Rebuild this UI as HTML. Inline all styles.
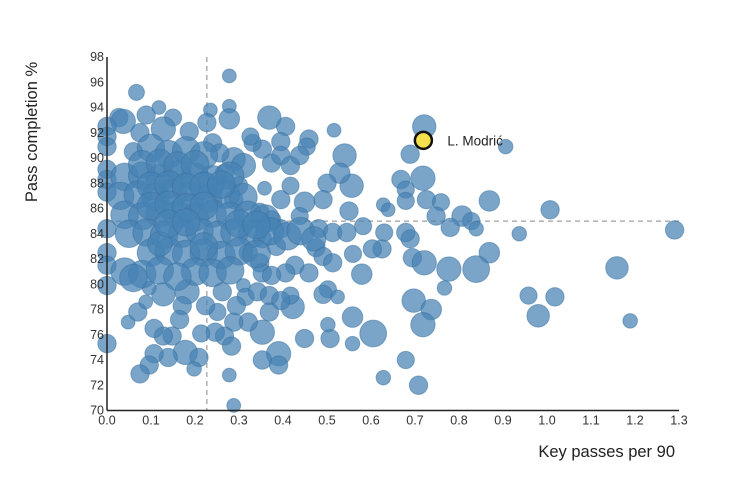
<!DOCTYPE html>
<html><head><meta charset="utf-8"><style>
body{margin:0;background:#fff;}
svg{display:block;font-family:"Liberation Sans",sans-serif;}
</style></head><body>
<svg id="chart" width="730" height="495" viewBox="0 0 730 495" xmlns="http://www.w3.org/2000/svg">
<g id="grid"></g>
<g id="dots"></g>
<g id="axes"></g>
<text transform="translate(37,132) rotate(-90)" text-anchor="middle" font-size="16.5" fill="#222">Pass completion %</text>
<text x="675" y="457" text-anchor="end" font-size="16.5" fill="#222">Key passes per 90</text>
</svg>
<script>
const xs=[0.278,0.067,0.721,0.906,0.689,0.516,0.54,0.718,0.668,0.679,0.679,0.726,0.759,0.869,1.007,0.628,0.639,0.748,0.807,0.828,0.78,0.839,0.937,1.29,0.869,0.689,0.679,0.694,0.721,0.777,0.839,1.159,0.767,0.958,1.018,0.98,1.189,0.697,0.737,0.718,0.679,0.628,0.708,0.605,0.558,0.558,0.507,0.502,0.449,0.579,0.559,0.625,0.603,0.63,0.582,0.55,0.556,0.529,0.5,0.491,0.449,0.438,0.481,0.513,0.545,0.475,0.491,0.513,0.459,0.427,0.406,0.502,0.491,0.524,0.422,0.417,0.459,0.454,0.406,0.369,0.395,0.374,0.395,0.417,0.438,0.353,0.331,0.326,0.358,0.395,0.417,0.347,0.374,0.395,0.353,0.385,0.321,0.347,0.353,0.374,0.31,0.315,0.342,0.369,0.395,0.369,0.353,0.321,0.288,0.267,0.283,0.246,0.214,0.251,0.224,0.182,0.171,0.165,0.262,0.294,0.39,0.353,0.39,0.278,0.288,0.178,0.209,0.198,0.139,0.107,0.096,0.075,0.148,0.128,0.107,0.0,0.048,0.07,0.088,0.128,0.096,0.027,0.037,0.0,0.0,0.0,0.0,0.0,0.0,0.0,0.0,0.0,0.0,0.089,0.118,0.15,0.128,0.075,0.187,0.235,0.227,0.278,0.278,0.24,0.288,0.31,0.256,0.267,0.299,0.288,0.246,
0.06,0.1,0.14,0.18,0.22,0.04,0.08,0.12,0.16,0.2,0.24,0.28,0.03,0.07,0.11,0.15,0.19,0.23,0.27,0.31,0.04,0.08,0.12,0.16,0.2,0.24,0.28,0.32,0.36,0.05,0.09,0.13,0.17,0.21,0.25,0.29,0.33,0.37,0.41,0.1,0.14,0.18,0.22,0.26,0.3,0.34,0.04,0.08,0.12,0.2,0.24,0.28,0.06,0.16,0.44,0.47,0.12,0.22,
0.08,0.12,0.16,0.2,0.1,0.14,0.18,0.22,0.26,0.1,0.14,0.18,0.22,0.14,0.18,0.3,0.34];
const ys=[96.5,95.2,92.5,90.9,90.3,92.2,90.2,88.4,88.3,87.5,86.6,86.7,86.5,86.6,85.9,86.3,85.9,85.4,85.4,85.0,84.5,84.4,84.0,84.3,82.5,83.6,84.1,82.1,81.7,81.2,81.2,81.3,79.7,79.1,79.0,77.5,77.1,78.7,78.0,76.8,74.0,72.6,72.0,76.1,77.4,75.3,75.7,76.8,75.7,80.8,82.4,82.8,82.8,84.1,84.6,85.8,87.8,88.8,88.0,86.7,86.5,85.4,84.4,84.1,84.1,82.9,82.2,81.7,80.9,81.5,80.9,79.6,79.2,79.0,78.2,79.1,91.5,90.9,92.5,93.2,91.3,89.6,90.2,89.4,90.2,90.7,91.2,91.7,87.6,86.7,87.8,85.7,85.1,84.4,83.6,83.0,82.5,81.7,80.9,80.7,79.9,79.0,79.4,79.1,78.7,77.8,76.2,77.0,77.0,75.9,75.1,76.2,76.1,77.8,78.3,79.4,78.3,77.2,79.4,78.3,74.5,74.0,73.6,72.8,70.4,74.6,74.2,73.3,74.2,74.5,73.6,72.9,75.9,75.9,76.5,75.3,77.0,77.8,78.6,79.2,79.7,93.2,92.9,92.5,91.7,90.9,89.1,88.3,87.3,84.4,82.5,81.5,79.9,93.4,94.0,93.2,92.3,92.0,92.1,93.8,92.8,94.1,93.1,91.2,89.9,89.4,90.4,88.8,87.8,86.7,87.8,
90.5,90.8,90.3,90.6,90.2,88.5,88.6,88.4,88.7,88.5,88.3,88.6,87.0,87.1,86.9,87.2,87.0,86.8,87.1,86.9,85.5,85.4,85.6,85.5,85.3,85.6,85.4,85.5,85.2,84.0,84.1,83.9,84.0,84.2,83.9,84.1,84.0,84.2,83.8,82.5,82.6,82.4,82.5,82.3,82.6,82.4,81.0,80.8,81.1,81.0,80.9,81.1,80.5,80.6,84.2,83.6,83.2,83.0,
89.5,89.6,89.4,89.5,87.8,87.9,87.7,87.8,87.9,86.2,86.3,86.1,86.2,84.8,84.9,84.8,84.7];
const mins=[900,1200,2600,1000,1600,900,2600,2800,1600,1400,1400,1600,1400,2000,1600,900,900,1600,2000,1400,1600,1000,1000,1600,2000,1600,1600,1600,2800,2800,3400,2400,1000,1400,1600,2400,1000,2600,2000,2800,1400,1000,1600,3400,2000,1000,1600,1000,1600,2000,1400,1600,1600,1400,1400,1600,2600,2000,1600,1600,2000,1400,1600,1600,1600,1600,1600,1600,1600,1600,1600,1400,1600,900,2600,1400,1600,1400,1600,2600,1600,1600,1600,1600,1600,1600,1400,1400,900,1600,1400,1600,1600,1600,1600,1600,1600,1600,1600,1600,900,1400,1600,1600,1600,1600,2800,1600,1600,1600,1600,1600,1400,1400,1600,2800,1600,1600,1600,1600,2800,1600,1600,900,900,2800,1600,1000,1600,1600,1600,1600,1600,1600,1600,1600,900,1600,900,2600,900,1600,2800,1600,1600,1600,1600,1600,1600,1600,1600,1600,1600,1600,900,1400,2800,1600,1600,900,1600,900,2000,1600,2600,2800,1600,1600,1600,1600,1600,1600,
3600,3600,3600,3600,3600,3600,3600,3600,3600,3600,3600,3600,3600,3600,3600,3600,3600,3600,3600,3600,3600,3600,3600,3600,3600,3600,3600,3600,3600,3600,3600,3600,3600,3600,3600,3600,3600,3600,3600,3600,3600,3600,3600,3600,3600,3600,3600,3600,3600,3600,3600,3600,3600,3600,2800,2800,3600,3600,
3600,3600,3600,3600,3600,3600,3600,3600,3600,3600,3600,3600,3600,3600,3600,3600,3600];
const highlightName="L. Modrić";
const highlightX=0.719, highlightY=91.4;
const xTicks=[0,0.1,0.2,0.3,0.4,0.5,0.6,0.7,0.8,0.9,1.0,1.1,1.2,1.3];
const yTicks=[70,72,74,76,78,80,82,84,86,88,90,92,94,96,98];
const refX=0.227, refY=85.0;

const NS="http://www.w3.org/2000/svg";
const X0=107,X1=679,Y0=410.5,Y1=57;
const sx=v=>X0+(v-0)/1.3*(X1-X0);
const sy=v=>Y0-(v-70)/28*(Y0-Y1);
const sr=m=>Math.sqrt(m)*0.23;
function mk(tag,attrs,parent){const e=document.createElementNS(NS,tag);for(const k in attrs)e.setAttribute(k,attrs[k]);parent.appendChild(e);return e;}
const grid=document.getElementById('grid'),dots=document.getElementById('dots'),axes=document.getElementById('axes');

let v=mk('line',{x1:sx(refX),x2:sx(refX),y1:Y1,y2:Y0,stroke:'#888','stroke-dasharray':'5,4','stroke-width':1},grid);


let h=mk('line',{x1:sx(0),x2:sx(1.3),y1:sy(refY),y2:sy(refY),stroke:'#888','stroke-dasharray':'5,4','stroke-width':1},grid);



for(let i=0;i<xs.length;i++){
  const c=mk('circle',{cx:sx(xs[i]),cy:sy(ys[i]),r:sr(mins[i]),fill:'#4682b4','fill-opacity':0.72,stroke:'#3a6f9c','stroke-opacity':0.5,'stroke-width':1},dots);
  
  
}
const hc=mk('circle',{cx:sx(highlightX),cy:sy(highlightY),r:8.5,fill:'#f4e04d',stroke:'#111','stroke-width':2.5},dots);


const ht=mk('text',{x:sx(highlightX)+24,y:sy(highlightY)+5,'font-size':13.5,fill:'#222'},dots);
ht.textContent=highlightName;



const ya=mk('line',{x1:X0,x2:X0,y1:Y1,y2:Y0,stroke:'#222','stroke-width':1.5},axes);


const xa=mk('line',{x1:X0,x2:X1,y1:Y0,y2:Y0,stroke:'#222','stroke-width':1.5},axes);


xTicks.forEach(t=>{
  const e=mk('text',{x:sx(t),y:Y0+14,'text-anchor':'middle','font-size':12.5,fill:'#333'},axes);
  e.textContent=t.toFixed(1);
  
  
});
yTicks.forEach(t=>{
  const e=mk('text',{x:X0-3,y:sy(t)+4,'text-anchor':'end','font-size':12.5,fill:'#333'},axes);
  e.textContent=t;
  
  
});
</script>
</body></html>
